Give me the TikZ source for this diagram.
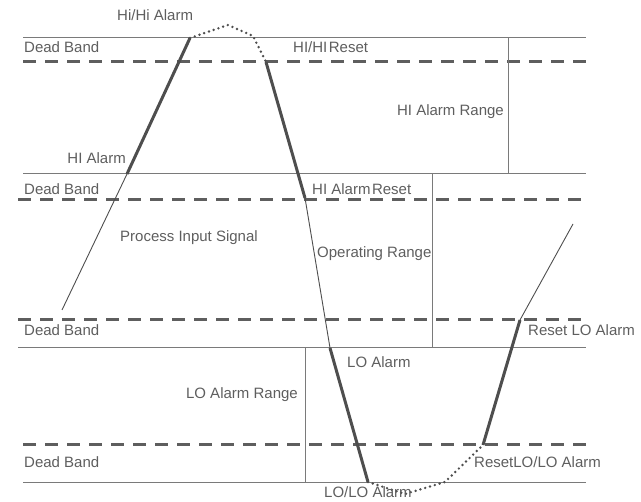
\documentclass[tikz,border=0pt]{standalone}
\usepackage{fontspec}
\setmainfont{Liberation Sans}
\definecolor{txt}{HTML}{5E5E5E}
\definecolor{thin}{HTML}{7A7A7A}
\definecolor{dash}{HTML}{5E5E5E}
\definecolor{sig}{HTML}{4E4E4E}
\begin{document}
\begin{tikzpicture}[x=1pt,y=-1pt,
  lbl/.style={inner sep=0pt,text=txt,font=\fontsize{15}{18}\selectfont},
  level/.style={draw=thin,line width=1pt},
  band/.style={draw=dash,line width=3pt,dash pattern=on 13pt off 9pt},
  div/.style={draw=thin,line width=1pt},
  sigthin/.style={draw=sig,line width=0.9pt},
  sigthick/.style={draw=sig,line width=3pt},
  sigdot/.style={draw=sig,line width=2.7pt,line cap=round,dash pattern=on 0pt off 5pt}]
\useasboundingbox (0,0) rectangle (641,502);
% level lines
\coordinate (l1a) at (23,38);  \coordinate (l1b) at (586,38);
\coordinate (d1a) at (23,62);  \coordinate (d1b) at (586,62);
\coordinate (l2a) at (23,174); \coordinate (l2b) at (586,174);
\coordinate (d2a) at (18,200); \coordinate (d2b) at (586,200);
\coordinate (d3a) at (18,320); \coordinate (d3b) at (584,320);
\coordinate (l3a) at (18,348); \coordinate (l3b) at (586,348);
\coordinate (d4a) at (23,445); \coordinate (d4b) at (586,445);
\coordinate (l4a) at (23,483); \coordinate (l4b) at (586,483);
\draw[level] (l1a) -- (l1b);
\draw[level] (l2a) -- (l2b);
\draw[level] (l3a) -- (l3b);
\draw[level] (l4a) -- (l4b);
\draw[band] (d1a) -- (d1b);
\draw[band] (d2a) -- (d2b);
\draw[band] (d3a) -- (d3b);
\draw[band] (d4a) -- (d4b);
% range dividers
\coordinate (v1a) at (508,38);  \coordinate (v1b) at (508,174);
\coordinate (v2a) at (432,174); \coordinate (v2b) at (432,348);
\coordinate (v3a) at (305,348); \coordinate (v3b) at (305,483);
\draw[div] (v1a) -- (v1b);
\draw[div] (v2a) -- (v2b);
\draw[div] (v3a) -- (v3b);
% signal
\coordinate (s0) at (62,310);
\coordinate (s1) at (127,174);
\coordinate (s2) at (190,38);
\coordinate (s3) at (228,25);
\coordinate (s4) at (253,36);
\coordinate (s5) at (266,62);
\coordinate (s6) at (305,198);
\coordinate (s7) at (330,348);
\coordinate (s8) at (368,482);
\coordinate (s9) at (405,494);
\coordinate (s10) at (445,482);
\coordinate (s11) at (483,445);
\coordinate (s12) at (520,320);
\coordinate (s13) at (573,224);
\draw[sigthin] (s0) -- (s1);
\draw[sigthick] (s1) -- (s2);
\draw[sigdot] (s2) -- (s3) -- (s4) -- (s5);
\draw[sigthick] (s5) -- (s6);
\draw[sigthin] (s6) -- (s7);
\draw[sigthick] (s7) -- (s8);
\draw[sigdot] (s8) -- (s9) -- (s10) -- (s11);
\draw[sigthick] (s11) -- (s12);
\draw[sigthin] (s12) -- (s13);
% labels
\node[lbl,anchor=base west] (hihi) at (117,21) {Hi/Hi Alarm};
\node[lbl,anchor=base west] (db1) at (24,53) {Dead Band};
\node[lbl,anchor=base west] (hihir) at (293,53) {HI/HI\hspace{0.1em}Reset};
\node[lbl,anchor=base east] (hir) at (504,116) {HI Alarm Range};
\node[lbl,anchor=base east] (hia) at (126,164) {HI Alarm};
\node[lbl,anchor=base west] (db2) at (24,195) {Dead Band};
\node[lbl,anchor=base west] (hiar) at (312,195) {HI Alarm\hspace{0.1em}Reset};
\node[lbl,anchor=base west] (pis) at (120,242) {Process Input Signal};
\node[lbl,anchor=base west] (opr) at (317,258) {Operating Range};
\node[lbl,anchor=base west] (db3) at (24,336) {Dead Band};
\node[lbl,anchor=base west] (rlo) at (528,336) {Reset LO Alarm};
\node[lbl,anchor=base west] (loa) at (347,368) {LO Alarm};
\node[lbl,anchor=base east] (lor) at (298,399) {LO Alarm Range};
\node[lbl,anchor=base west] (db4) at (24,468) {Dead Band};
\node[lbl,anchor=base west] (rlolo) at (474,468) {ResetLO/LO Alarm};
\node[lbl,anchor=base west] (lolo) at (324,498) {LO/LO Alarm};
\end{tikzpicture}
\end{document}
